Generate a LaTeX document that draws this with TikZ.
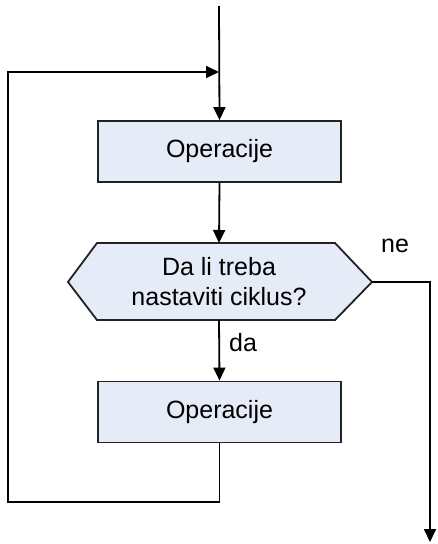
\documentclass[tikz,border=0pt]{standalone}
\usepackage{fontspec}
\setmainfont{Liberation Sans}
\usetikzlibrary{arrows.meta}
\definecolor{boxfill}{HTML}{E6ECF7}
\definecolor{edge}{HTML}{222222}
\tikzset{
  box/.style={draw=edge, line width=1.8pt, fill=boxfill, minimum width=243pt, minimum height=61pt, inner sep=0pt, font=\fontsize{25}{30}\selectfont},
  conn/.style={draw=black, line width=1.8pt},
  arr/.style={conn, -{Triangle[length=13pt,width=12pt]}},
  lbl/.style={font=\fontsize{25}{30}\selectfont, inner sep=0pt},
}
\begin{document}
\begin{tikzpicture}[x=1pt,y=-1pt]
\useasboundingbox (0,0) rectangle (438,544);
\coordinate (top) at (219,6);
\coordinate (j) at (219,72);
\node[box] (op1) at (219.5,151.5) {Operacije};
\coordinate (hl) at (68,282);
\coordinate (htl) at (97,243);
\coordinate (htr) at (335,243);
\coordinate (hr) at (372,282);
\coordinate (hbr) at (335,320);
\coordinate (hbl) at (97,320);
\coordinate (ht) at (219,243);
\coordinate (hb) at (219,320);
\draw[draw=edge, line width=1.8pt, fill=boxfill, line join=miter] (hl) -- (htl) -- (htr) -- (hr) -- (hbr) -- (hbl) -- cycle;
\node[lbl, align=center, font=\fontsize{25}{30}\selectfont] (q) at (219,282) {Da li treba\\nastaviti ciklus?};
\node[box] (op2) at (219.5,412) {Operacije};
\coordinate (lb) at (8,502);
\coordinate (lt) at (8,72);
\coordinate (e) at (430,542);
\draw[arr] (top) -- (op1.north);
\draw[arr] (op1.south) -- (ht);
\draw[arr] (hb) -- (op2.north);
\draw[arr] (op2.south) |- (lb) -- (lt) -- (j);
\draw[arr] (hr) -| (e);
\node[lbl, anchor=west] (da) at (229,343) {da};
\node[lbl, anchor=west] (ne) at (381,246) {ne};
\end{tikzpicture}
\end{document}
